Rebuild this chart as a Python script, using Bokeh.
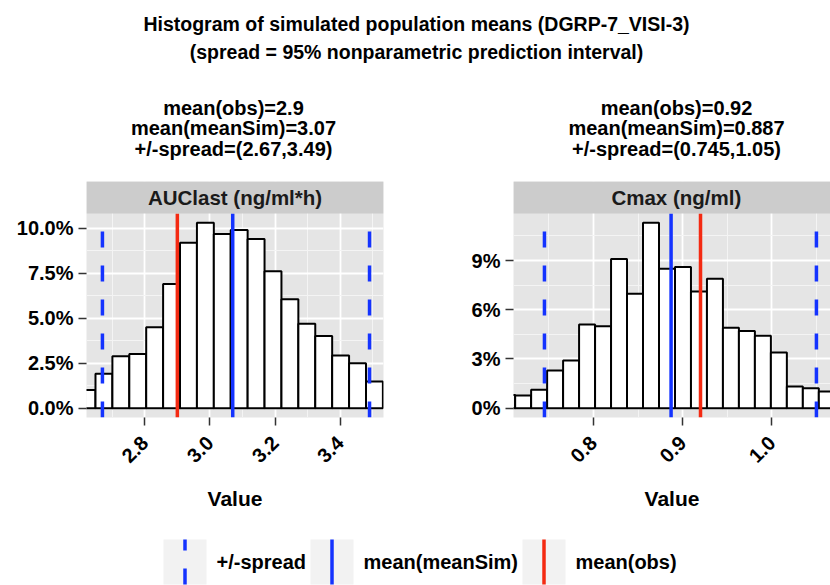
import math
from bokeh.plotting import figure
from bokeh.layouts import column, row
from bokeh.models import Range1d, FixedTicker, ColumnDataSource
from bokeh.embed import file_html
from bokeh.resources import INLINE
from bokeh.core.properties import value

FONT = "Liberation Sans"
BLUE = "#1433FF"
RED = "#F42A12"

# ---------------- data ----------------
title_lines = [
    "Histogram of simulated population means (DGRP-7_VISI-3)",
    "(spread = 95% nonparametric prediction interval)",
]

# AUClast panel
auc_name = "AUClast (ng/ml*h)"
auc_bin_start = 2.5968
auc_bin_width = 0.0519
auc_pct = [1.02, 1.91, 2.89, 3.02, 4.50, 6.91, 9.20, 10.31, 9.69, 9.91,
           9.41, 7.61, 6.06, 4.69, 4.02, 2.93, 2.50, 1.48]
auc_obs = 2.9
auc_sim = 3.07
auc_spread = [2.67, 3.49]
auc_xlim = [2.6211, 3.5329]
auc_xticks = [2.8, 3, 3.2, 3.4]
auc_xlabels = ["2.8", "3.0", "3.2", "3.4"]
auc_xminor = [2.7, 2.9, 3.1, 3.3, 3.5]
auc_yticks = [0, 2.5, 5, 7.5, 10]
auc_ylabels = ["0.0%", "2.5%", "5.0%", "7.5%", "10.0%"]
auc_yminor = [1.25, 3.75, 6.25, 8.75]

# Cmax panel
cmax_name = "Cmax (ng/ml)"
cmax_bin_start = 0.69421
cmax_bin_width = 0.017924
cmax_pct = [0.80, 0.77, 1.12, 2.30, 2.91, 5.10, 5.00, 9.10, 6.97, 11.30,
            8.50, 8.60, 7.11, 7.89, 4.90, 4.70, 4.41, 3.39, 1.32, 1.22, 1.02]
cmax_obs = 0.92
cmax_sim = 0.887
cmax_spread = [0.745, 1.05]
cmax_xlim = [0.71028, 1.06578]
cmax_full_right = 1.0755
cmax_xticks = [0.8, 0.9, 1]
cmax_xlabels = ["0.8", "0.9", "1.0"]
cmax_xminor = [0.75, 0.85, 0.95, 1.05]
cmax_yticks = [0, 3, 6, 9]
cmax_ylabels = ["0%", "3%", "6%", "9%"]
cmax_yminor = [1.5, 4.5, 7.5, 10.5]

legend_labels = ["+/-spread", "mean(meanSim)", "mean(obs)"]

# ---------------- layout constants ----------------
W = 830
HEAD_H = 181
ROW_H = 344
LEG_H = 60
STRIP_PX = 32
PANEL_PX = 204
BOTTOM_PX = ROW_H - STRIP_PX - PANEL_PX


def fmt(v):
    return f"{v:g}"


def panel(name, pct, bin_start, bin_width, xlim, xticks, xlabels, xminor,
          yticks, ylabels, yminor, obs, sim, spread, width, bl, br, strip_x):
    ymax = max(pct)
    lo, hi = -0.05 * ymax, 1.05 * ymax
    top = hi + STRIP_PX * (hi - lo) / PANEL_PX
    p = figure(width=width, height=ROW_H, title=None,
               x_range=Range1d(*xlim), y_range=Range1d(lo, top),
               output_backend="svg", toolbar_location=None,
               min_border_left=bl, min_border_right=br,
               min_border_top=0, min_border_bottom=BOTTOM_PX,
               background_fill_color="#E5E5E5", border_fill_color="white",
               outline_line_color=None)
    xt = FixedTicker(ticks=xticks, minor_ticks=xminor)
    yt = FixedTicker(ticks=yticks, minor_ticks=yminor)
    p.xaxis.ticker = xt
    p.yaxis.ticker = yt
    p.xgrid.ticker = xt
    p.ygrid.ticker = yt
    for g in (p.xgrid, p.ygrid):
        g.grid_line_color = "white"
        g.grid_line_width = 1.8
        g.minor_grid_line_color = "#F4F4F4"
        g.minor_grid_line_width = 1
    p.xaxis.major_label_overrides = {t: l for t, l in zip(xticks, xlabels)}
    p.yaxis.major_label_overrides = {t: l for t, l in zip(yticks, ylabels)}
    for ax in (p.xaxis, p.yaxis):
        ax.axis_line_color = None
        ax.major_tick_in = 0
        ax.major_tick_out = 8
        ax.minor_tick_in = 0
        ax.minor_tick_out = 0
        ax.major_tick_line_color = "#333333"
        ax.major_tick_line_width = 1.5
        ax.major_label_text_font = FONT
        ax.major_label_text_font_style = "bold"
        ax.major_label_text_font_size = "20px"
        ax.major_label_text_color = "black"
        ax.major_label_standoff = 5
    p.xaxis.major_label_orientation = math.pi / 4
    p.xaxis.major_label_standoff = 14
    p.xaxis.axis_label = "Value"
    p.xaxis.axis_label_text_font = FONT
    p.xaxis.axis_label_text_font_style = "bold"
    p.xaxis.axis_label_text_font_size = "21px"
    p.xaxis.axis_label_text_color = "black"
    p.xaxis.axis_label_standoff = 15

    lefts = [bin_start + i * bin_width for i in range(len(pct))]
    src = ColumnDataSource(dict(left=lefts,
                                right=[l + bin_width for l in lefts],
                                top=pct, bottom=[0] * len(pct)))
    p.quad(left="left", right="right", top="top", bottom="bottom", source=src,
           fill_color="white", line_color="black", line_width=2)

    p.segment(x0=spread, x1=spread, y0=[lo] * 2, y1=[hi] * 2,
              line_color=BLUE, line_width=3.5, line_dash="16 18")
    p.segment(x0=[sim], x1=[sim], y0=[lo], y1=[hi], line_color=BLUE, line_width=3.5)
    p.segment(x0=[obs], x1=[obs], y0=[lo], y1=[hi], line_color=RED, line_width=3.5)

    # facet strip
    p.quad(left=[xlim[0]], right=[xlim[1]], bottom=[hi], top=[top],
           fill_color="#CCCCCC", line_color=None)
    p.text(x=[strip_x], y=[(hi + top) / 2], text=[name],
           text_align="center", text_baseline="middle",
           text_font=value(FONT), text_font_style="bold",
           text_font_size="20.5px", text_color="#1A1A1A")
    return p


left = panel(auc_name, auc_pct, auc_bin_start, auc_bin_width, auc_xlim,
             auc_xticks, auc_xlabels, auc_xminor, auc_yticks, auc_ylabels,
             auc_yminor, auc_obs, auc_sim, auc_spread, 415, 86, 32,
             (auc_xlim[0] + auc_xlim[1]) / 2)
right = panel(cmax_name, cmax_pct, cmax_bin_start, cmax_bin_width, cmax_xlim,
              cmax_xticks, cmax_xlabels, cmax_xminor, cmax_yticks,
              cmax_ylabels, cmax_yminor, cmax_obs, cmax_sim, cmax_spread,
              415, 98, 0, (cmax_xlim[0] + cmax_full_right) / 2)


def blank(h):
    p = figure(width=W, height=h, title=None, x_range=Range1d(0, W),
               y_range=Range1d(h, 0), output_backend="svg",
               toolbar_location=None, x_axis_type=None, y_axis_type=None,
               min_border=0, outline_line_color=None,
               background_fill_color="white", border_fill_color="white")
    p.grid.visible = False
    return p


def label(p, x, y, txt, align="center", baseline="alphabetic", size="20px"):
    p.text(x=[x], y=[y], text=[txt], text_align=align, text_baseline=baseline,
           text_font=value(FONT), text_font_style="bold",
           text_font_size=size, text_color="black")


head = blank(HEAD_H)
label(head, 416, 23, title_lines[0], size="19.5px")
label(head, 416, 51, title_lines[1], size="19.5px")
for cx, (o, s, sp) in zip([233, 676], [(auc_obs, auc_sim, auc_spread),
                                      (cmax_obs, cmax_sim, cmax_spread)]):
    label(head, cx, 107, f"mean(obs)={fmt(o)}")
    label(head, cx, 127.5, f"mean(meanSim)={fmt(s)}")
    label(head, cx, 148, f"+/-spread=({fmt(sp[0])},{fmt(sp[1])})")

leg = blank(LEG_H)
key_x = [163, 310, 522]
key_w, key_top, key_bot = 43, 14, 59
leg.quad(left=key_x, right=[k + key_w for k in key_x], top=[key_top] * 3,
         bottom=[key_bot] * 3, fill_color="#F2F2F2", line_color=None)
kc = [k + key_w / 2 for k in key_x]
leg.segment(x0=[kc[0]], x1=[kc[0]], y0=[key_bot], y1=[key_top],
            line_color=BLUE, line_width=3.5, line_dash="16 18")
leg.segment(x0=[kc[1]], x1=[kc[1]], y0=[key_bot], y1=[key_top],
            line_color=BLUE, line_width=3.5)
leg.segment(x0=[kc[2]], x1=[kc[2]], y0=[key_bot], y1=[key_top],
            line_color=RED, line_width=3.5)
for k, t in zip(key_x, legend_labels):
    label(leg, k + key_w + 10, (key_top + key_bot) / 2, t, align="left",
          baseline="middle")

layout = column(head, row(left, right, spacing=0), leg, spacing=0)
open("out.html", "w").write(file_html(layout, INLINE))
